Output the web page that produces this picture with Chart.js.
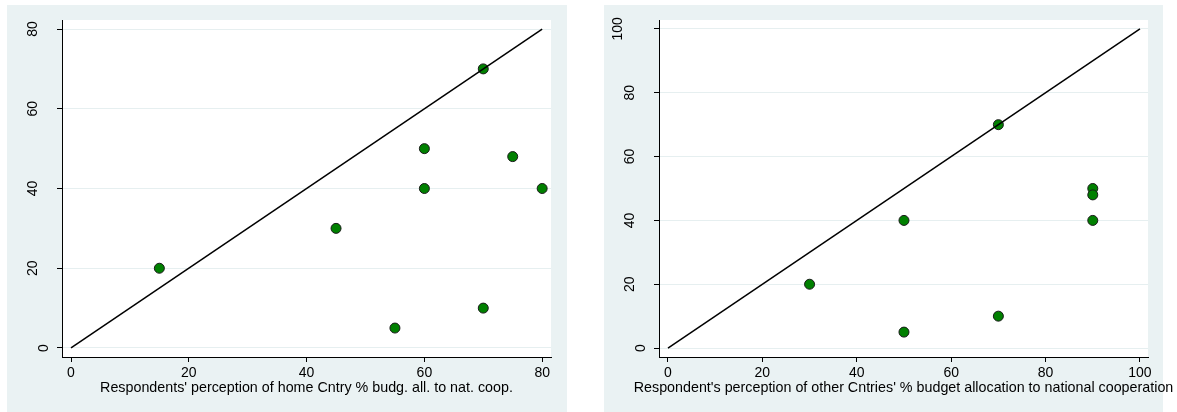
<!DOCTYPE html>
<html>
<head>
<meta charset="utf-8">
<script src="https://cdn.jsdelivr.net/npm/chart.js@4/dist/chart.umd.min.js"></script>
<style>
body { margin: 0; width: 1177px; height: 412px; background: #fff; position: relative; overflow: hidden; }
.bg { position: absolute; background: #eaf2f3; }
canvas { position: absolute; }
</style>
</head>
<body>
<div class="bg" style="left:7px;top:5px;width:560px;height:407px"></div>
<div class="bg" style="left:604px;top:5px;width:559px;height:407px"></div>
<canvas id="home" width="560" height="407" style="left:7px;top:5px"></canvas>
<canvas id="other" width="573" height="407" style="left:604px;top:5px"></canvas>
<script>
// values
const homeX = [15, 45, 55, 60, 60, 70, 70, 75, 80];
const homeY = [20, 30, 5, 40, 50, 10, 70, 48, 40];
const otherX = [30, 50, 50, 70, 70, 90, 90, 90];
const otherY = [20, 40, 5, 70, 10, 50, 48, 40];

const homeTicks = [0, 20, 40, 60, 80];
const otherTicks = [0, 20, 40, 60, 80, 100];

// 45 degree reference line, start and end value
const homeDiag = [0, 80];
const otherDiag = [0, 100];

const homeTitle = "Respondents' perception of home Cntry % budg. all. to nat. coop.";
const otherTitle = "Respondent's perception of other Cntries' % budget allocation to national cooperation";

const family = "'Liberation Sans', Arial, sans-serif";
const tickFont = { family: family, size: 14 };

// white plot region, stata style rotated y labels, x title that may run past the plot
const stataLook = {
    id: "stata_look",
    beforeDraw(chart) {
        const a = chart.chartArea;
        chart.ctx.save();
        chart.ctx.fillStyle = "#fff";
        chart.ctx.fillRect(a.left, a.top, a.right - a.left, a.bottom - a.top);
        chart.ctx.restore();
    },
    afterDraw(chart, args, opts) {
        const ctx = chart.ctx;
        const s = chart.scales.y;
        const a = chart.chartArea;
        ctx.save();
        ctx.fillStyle = "#000";
        ctx.font = "14px " + family;
        ctx.textAlign = "center";
        ctx.textBaseline = "middle";
        s.ticks.forEach(t => {
            const txt = String(t.value);
            const y = s.getPixelForValue(t.value);
            const x = a.left - 6 - 11.5 * txt.length;
            ctx.save();
            ctx.translate(x, y);
            ctx.rotate(-Math.PI / 2);
            ctx.fillText(txt, 0, 0);
            ctx.restore();
        });
        ctx.font = opts.size + "px " + family;
        ctx.fillText(opts.text, (a.left + a.right) / 2, a.bottom + 31);
        ctx.restore();
    }
};

function makeChart(id, xs, ys, diag, ticks, xr, yr, title, titleSize, rightPad) {
    const pts = xs.map((x, i) => ({ x: x, y: ys[i] }));
    new Chart(document.getElementById(id), {
        type: "scatter",
        data: {
            datasets: [{
                type: "line",
                data: [{ x: diag[0], y: diag[0] }, { x: diag[1], y: diag[1] }],
                borderColor: "#000",
                borderWidth: 1.5,
                pointRadius: 0,
                fill: false
            }, {
                data: pts,
                backgroundColor: "rgb(0,128,0)",
                borderColor: "#1a1a1a",
                borderWidth: 1,
                pointRadius: 5
            }]
        },
        options: {
            responsive: false,
            devicePixelRatio: 1,
            animation: false,
            layout: { padding: { top: 15, right: rightPad, left: 0, bottom: 0 } },
            plugins: {
                legend: { display: false },
                tooltip: { enabled: false },
                stata_look: { text: title, size: titleSize }
            },
            scales: {
                x: {
                    type: "linear",
                    min: xr[0],
                    max: xr[1],
                    afterBuildTicks: s => { s.ticks = ticks.map(v => ({ value: v })); },
                    afterFit: s => { s.height = 55; },
                    grid: { drawOnChartArea: false, tickLength: 5, tickColor: "#000" },
                    border: { color: "#000", width: 1 },
                    ticks: { color: "#000", font: tickFont, padding: 3, maxRotation: 0 }
                },
                y: {
                    type: "linear",
                    min: yr[0],
                    max: yr[1],
                    afterBuildTicks: s => { s.ticks = ticks.map(v => ({ value: v })); },
                    afterFit: s => { s.width = 55; },
                    grid: { color: "#e6eff0", tickColor: "#000", tickLength: 5 },
                    border: { color: "#000", width: 1 },
                    ticks: { display: false }
                }
            }
        },
        plugins: [stataLook]
    });
}

makeChart("home", homeX, homeY, homeDiag, homeTicks, [-1.53, 81.5], [-2.26, 82.26], homeTitle, 14.3, 16);
makeChart("other", otherX, otherY, otherDiag, otherTicks, [-1.9, 101.7], [-2.8, 102.8], otherTitle, 14.3, 29);
</script>
</body>
</html>
